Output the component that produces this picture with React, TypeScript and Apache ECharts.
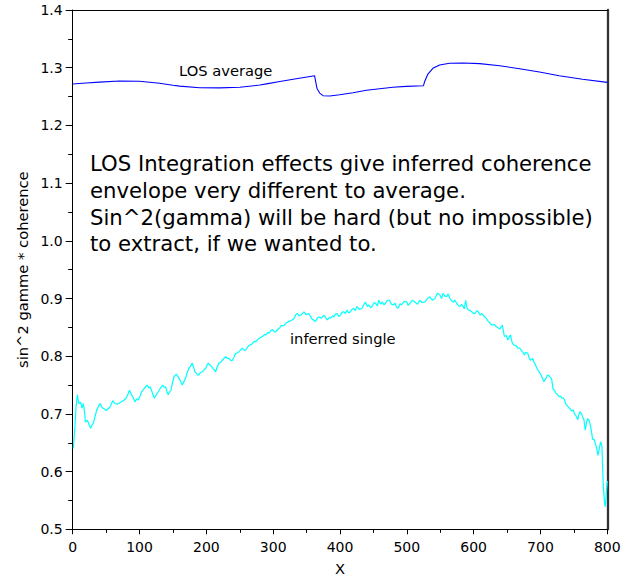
import React, { useEffect, useRef } from "react";
import * as echarts from "echarts";

// LOS average (blue)
const losX = [0, 20, 40, 70, 100, 130, 150, 160, 190, 220, 250, 280, 290, 310, 330, 362, 363.6, 365.6, 369.6, 374.6, 384.6, 399.5, 419.5, 439.5, 459.4, 479, 499, 525, 526.6, 531.5, 539, 549, 564, 584, 609, 639, 668.6, 698.5, 728, 763, 800];
const losY = [1.2718, 1.2735, 1.275, 1.277, 1.2765, 1.273, 1.2695, 1.268, 1.2653, 1.265, 1.266, 1.270, 1.272, 1.276, 1.280, 1.286, 1.276, 1.264, 1.256, 1.2515, 1.251, 1.253, 1.2567, 1.261, 1.2636, 1.266, 1.2677, 1.2688, 1.2757, 1.289, 1.299, 1.3047, 1.3076, 1.3081, 1.307, 1.3035, 1.2983, 1.2925, 1.2861, 1.280, 1.2745];

// inferred single (cyan)
const infX = [1, 3, 5, 7, 9, 12, 14, 16, 18, 19, 22, 25, 27, 29, 31, 34, 36, 39, 41, 44, 47, 50, 53, 56, 60, 63, 67, 70, 73, 77, 80, 83, 85, 88, 91, 93, 96, 98, 101, 103, 107, 111, 114, 116, 119, 122, 125, 128, 131, 134.5, 137, 139, 141, 143, 145, 147, 149, 151.5, 155, 157, 159, 162, 164, 166, 169, 171, 174, 177, 179, 181, 183, 186, 188, 191, 194, 197, 199, 201, 203, 206, 208, 211, 214, 216, 219, 222, 224, 227, 229, 232, 234, 237, 239, 242, 244, 247, 249, 252, 254, 257, 259, 262, 264, 267, 269, 272, 274, 277, 279, 282, 284, 287, 289, 292, 294, 297, 299, 302, 304, 307, 309, 312, 316, 319, 323, 327, 331, 334, 336, 339, 341, 344, 346, 349, 353, 356, 358, 361, 363, 366, 368, 372, 376, 379, 381, 384, 386, 389, 391, 393, 395.5, 398, 400.5, 403, 405.5, 408, 410.5, 413, 415.5, 418, 420.5, 423, 425.5, 429, 433, 436, 438, 441, 443, 446, 448, 451, 453, 456, 458, 461, 463, 466, 468, 471, 474, 477, 480, 482, 485, 487, 490, 492, 496, 500, 502, 505, 508, 512, 516, 519.5, 523, 527, 531, 534.5, 538, 542, 546, 549.5, 552, 554.5, 557, 559.5, 562, 564.5, 567, 569.5, 572, 574.5, 577, 579.5, 582, 584.5, 586, 588, 590, 592, 595, 597, 600, 602, 605, 607, 610, 612, 615, 617, 620, 622, 625, 627, 631, 634, 637, 639, 643, 646, 649, 651, 655, 658, 661, 664, 666, 669, 671, 674, 676, 678, 681, 683, 685, 688.5, 690, 692.5, 694, 696, 698, 701, 703, 705, 707, 708.5, 710, 712, 714, 716, 717, 719, 721, 723, 725, 728, 730, 732, 734, 736, 738, 741, 743, 745, 747, 749, 751, 753, 756, 757, 759, 761, 763, 765, 767, 769, 771, 773, 774, 776, 778, 780, 782, 784, 786, 788, 790, 792, 794, 796, 797, 799, 800];
const infY = [0.640, 0.672, 0.712, 0.733, 0.718, 0.720, 0.710, 0.718, 0.700, 0.686, 0.689, 0.680, 0.675, 0.681, 0.684, 0.698, 0.707, 0.714, 0.718, 0.711, 0.709, 0.706, 0.709, 0.712, 0.723, 0.718, 0.717, 0.719, 0.721, 0.724, 0.727, 0.735, 0.741, 0.733, 0.727, 0.721, 0.726, 0.724, 0.731, 0.738, 0.744, 0.750, 0.745, 0.747, 0.737, 0.727, 0.733, 0.738, 0.744, 0.750, 0.746, 0.747, 0.738, 0.733, 0.738, 0.741, 0.752, 0.764, 0.769, 0.766, 0.762, 0.755, 0.750, 0.755, 0.762, 0.770, 0.779, 0.784, 0.788, 0.780, 0.773, 0.769, 0.767, 0.771, 0.773, 0.777, 0.779, 0.785, 0.788, 0.784, 0.782, 0.777, 0.773, 0.781, 0.788, 0.790, 0.793, 0.797, 0.799, 0.796, 0.796, 0.792, 0.793, 0.800, 0.805, 0.806, 0.808, 0.812, 0.814, 0.810, 0.811, 0.816, 0.819, 0.820, 0.822, 0.826, 0.825, 0.829, 0.831, 0.833, 0.834, 0.838, 0.837, 0.841, 0.840, 0.845, 0.846, 0.842, 0.842, 0.847, 0.848, 0.853, 0.853, 0.857, 0.860, 0.862, 0.865, 0.872, 0.874, 0.870, 0.871, 0.874, 0.877, 0.872, 0.874, 0.869, 0.865, 0.862, 0.860, 0.866, 0.868, 0.866, 0.871, 0.866, 0.863, 0.867, 0.866, 0.870, 0.868, 0.873, 0.874, 0.869, 0.871, 0.876, 0.877, 0.874, 0.880, 0.875, 0.877, 0.881, 0.883, 0.879, 0.886, 0.881, 0.883, 0.890, 0.894, 0.886, 0.889, 0.884, 0.886, 0.893, 0.892, 0.887, 0.897, 0.890, 0.894, 0.889, 0.892, 0.897, 0.897, 0.890, 0.889, 0.892, 0.885, 0.883, 0.891, 0.889, 0.895, 0.894, 0.888, 0.892, 0.897, 0.894, 0.890, 0.897, 0.893, 0.894, 0.900, 0.903, 0.897, 0.900, 0.909, 0.906, 0.900, 0.909, 0.904, 0.903, 0.908, 0.900, 0.896, 0.894, 0.897, 0.892, 0.888, 0.886, 0.890, 0.886, 0.882, 0.897, 0.884, 0.880, 0.879, 0.877, 0.874, 0.874, 0.879, 0.877, 0.871, 0.874, 0.870, 0.868, 0.864, 0.860, 0.857, 0.854, 0.855, 0.851, 0.849, 0.847, 0.854, 0.834, 0.836, 0.828, 0.837, 0.822, 0.819, 0.818, 0.814, 0.814, 0.811, 0.806, 0.802, 0.807, 0.805, 0.797, 0.793, 0.796, 0.790, 0.785, 0.781, 0.776, 0.773, 0.767, 0.762, 0.756, 0.760, 0.762, 0.767, 0.767, 0.764, 0.762, 0.758, 0.742, 0.741, 0.736, 0.734, 0.730, 0.731, 0.727, 0.728, 0.724, 0.717, 0.713, 0.710, 0.708, 0.705, 0.707, 0.700, 0.697, 0.690, 0.697, 0.704, 0.701, 0.695, 0.690, 0.672, 0.686, 0.692, 0.688, 0.684, 0.672, 0.656, 0.656, 0.649, 0.641, 0.628, 0.640, 0.652, 0.643, 0.574, 0.545, 0.539, 0.570, 0.584];

const xTicks = { min: 0, max: 800, interval: 100 };
const yTicks = { min: 0.5, max: 1.4, interval: 0.1 };

const xAxisName = "X";
const yAxisName = "sin^2 gamme * coherence";
const noteLines = [
  "LOS Integration effects give inferred coherence",
  "envelope very different to average.",
  "Sin^2(gamma) will be hard (but no impossible)",
  "to extract, if we wanted to.",
];
const losLabel = "LOS average";
const infLabel = "inferred single";

const FONT = "DejaVu Sans";

export default function App() {
  const ref = useRef<HTMLDivElement>(null);
  useEffect(() => {
    if (!ref.current) return;
    const chart = echarts.init(ref.current, null, { renderer: "svg" });
    const losData = losX.map((x, i) => [x, losY[i]]);
    const infData = infX.map((x, i) => [x, infY[i]]);
    chart.setOption({
      animation: false,
      backgroundColor: "#fff",
      textStyle: { fontFamily: FONT },
      grid: {
        left: 72.7,
        right: 14.7,
        top: 10,
        bottom: 46.7,
        containLabel: false,
        outerBoundsMode: "none",
      },
      xAxis: [
        {
          type: "value",
          min: xTicks.min,
          max: xTicks.max,
          interval: xTicks.interval,
          position: "bottom",
          name: xAxisName,
          nameLocation: "middle",
          nameGap: 31.5,
          nameTextStyle: { fontSize: 14.7, color: "#000", fontFamily: FONT },
          axisLine: { onZero: false, lineStyle: { color: "#000", width: 1 } },
          axisTick: { show: true, length: 5, lineStyle: { color: "#000" } },
          minorTick: { show: true, splitNumber: 2, length: 3.5, lineStyle: { color: "#000" } },
          axisLabel: { fontSize: 14, color: "#000", margin: 11, fontFamily: FONT },
          splitLine: { show: false },
        },
        {
          type: "value",
          min: xTicks.min,
          max: xTicks.max,
          position: "top",
          axisLine: { show: true, onZero: false, lineStyle: { color: "#000", width: 1 } },
          axisTick: { show: false },
          axisLabel: { show: false },
          splitLine: { show: false },
        },
      ],
      yAxis: [
        {
          type: "value",
          min: yTicks.min,
          max: yTicks.max,
          interval: yTicks.interval,
          position: "left",
          name: yAxisName,
          nameLocation: "middle",
          nameGap: 42,
          nameTextStyle: { fontSize: 14.7, color: "#000", fontFamily: FONT },
          axisLine: { show: true, onZero: false, lineStyle: { color: "#000", width: 1 } },
          axisTick: { show: true, length: 7, lineStyle: { color: "#000" } },
          minorTick: { show: true, splitNumber: 2, length: 4.5, lineStyle: { color: "#000" } },
          axisLabel: {
            fontSize: 14,
            color: "#000",
            margin: 10,
            fontFamily: FONT,
            formatter: (v: number) => v.toFixed(1),
          },
          splitLine: { show: false },
        },
        {
          type: "value",
          min: yTicks.min,
          max: yTicks.max,
          position: "right",
          axisLine: { show: true, onZero: false, lineStyle: { color: "#333", width: 2.3 } },
          axisTick: { show: false },
          axisLabel: { show: false },
          splitLine: { show: false },
        },
      ],
      series: [
        {
          type: "line",
          data: losData,
          xAxisIndex: 0,
          yAxisIndex: 0,
          symbol: "none",
          showSymbol: false,
          lineStyle: { color: "#0000ff", width: 1.1 },
          z: 3,
        },
        {
          type: "line",
          data: infData,
          xAxisIndex: 0,
          yAxisIndex: 0,
          symbol: "none",
          showSymbol: false,
          lineStyle: { color: "#00ffff", width: 1.2 },
          z: 4,
        },
      ],
      graphic: [
        {
          type: "text",
          x: 90,
          y: 150.5,
          style: {
            text: noteLines.join("\n"),
            fontSize: 21.2,
            lineHeight: 26.7,
            fill: "#000",
            fontFamily: FONT,
            verticalAlign: "top",
            align: "left",
          },
        },
        {
          type: "text",
          x: 179,
          y: 70,
          style: { text: losLabel, fontSize: 14.7, fill: "#000", fontFamily: FONT, verticalAlign: "middle", align: "left" },
        },
        {
          type: "text",
          x: 290,
          y: 338.5,
          style: { text: infLabel, fontSize: 14.7, fill: "#000", fontFamily: FONT, verticalAlign: "middle", align: "left" },
        },
      ],
    });
    return () => chart.dispose();
  }, []);
  return (
    <div
      ref={ref}
      style={{ position: "fixed", left: 0, top: 0, width: 622, height: 576, background: "#fff" }}
    />
  );
}
